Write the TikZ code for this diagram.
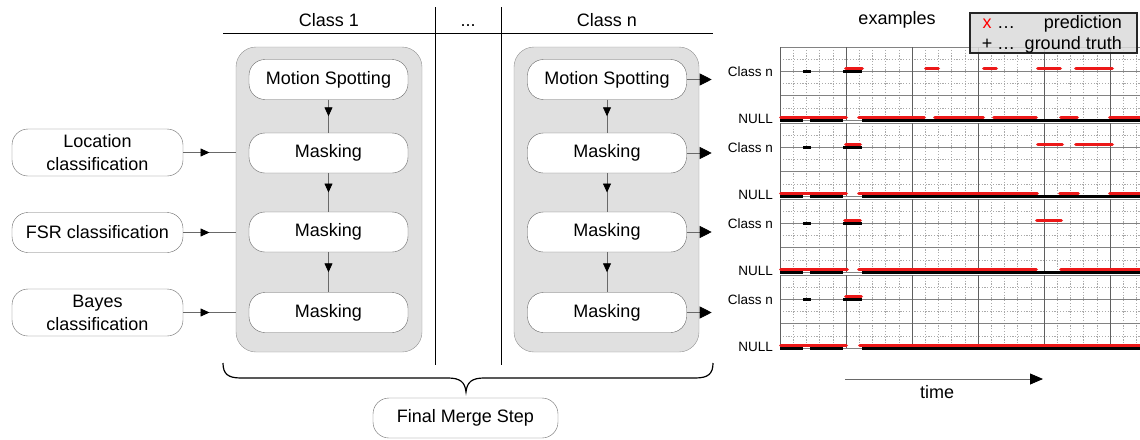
\documentclass[tikz,border=0pt]{standalone}
\usepackage{fontspec}
\setmainfont{Liberation Sans}
\usetikzlibrary{arrows.meta,decorations.markings}

\definecolor{linegray}{RGB}{105,105,105}
\definecolor{panelfill}{RGB}{224,224,224}
\definecolor{predred}{RGB}{236,24,24}
\definecolor{gridmajor}{RGB}{95,95,95}
\definecolor{gridrow}{RGB}{130,130,130}
\definecolor{gridminor}{RGB}{170,170,170}

\tikzset{
  stage/.style={draw=linegray, fill=white, rounded corners=16pt,
    minimum width=159pt, minimum height=40pt, align=center},
  source/.style={stage, minimum width=171pt, minimum height=47pt},
  group/.style={draw=gray!85, fill=panelfill, rounded corners=20pt,
    minimum height=305pt},
  flow/.style={draw=linegray, line width=0.8pt,
    decoration={markings, mark=at position 0.5 with
      {\arrow[black]{Triangle[length=9pt,width=8pt]}}},
    postaction={decorate}},
  output/.style={draw=linegray, line width=0.8pt,
    -{Triangle[length=12pt,width=12pt,color=black]}},
  minorgrid/.style={gridminor, line width=0.6pt, dash pattern=on 1.2pt off 1.6pt},
  majorgrid/.style={gridmajor, line width=0.7pt},
  rowgrid/.style={gridrow, line width=0.7pt},
  truth/.style={black, line width=3pt},
  pred/.style={predred, line width=3.6pt, line cap=round},
  plotlabel/.style={font=\fontsize{13.5}{15}\selectfont, anchor=east},
}

% prediction segments of one panel: top edge, Class n segments, NULL segments
\newcommand\predrow[3]{%
  \foreach \a/\b in {#2} \draw[pred] (\a+1.8,#1+21.6) -- (\b-1.8,#1+21.6);
  \foreach \a/\b in {#3} \draw[pred] (\a+1.8,#1+70.4) -- (\b-1.8,#1+70.4);
}

\begin{document}
\begin{tikzpicture}[x=1pt,y=-1pt,
  every node/.style={font=\fontsize{18}{23}\selectfont, inner sep=0pt}]
\useasboundingbox (0,0) rectangle (1140,439);

% ---------- column headers ----------
\coordinate (hl) at (223,33);
\coordinate (hr) at (713,33);
\coordinate (d1t) at (435,7);
\coordinate (d1b) at (435,365);
\coordinate (d2t) at (501,7);
\coordinate (d2b) at (501,365);
\draw[black, line width=0.9pt] (hl) -- (hr);
\draw[black, line width=0.9pt] (d1t) -- (d1b);
\draw[black, line width=0.9pt] (d2t) -- (d2b);
\node (h1) at (329,20) {Class 1};
\node[anchor=base] (hd) at (468,26) {...};
\node (hn) at (607,20) {Class n};

% ---------- class groups ----------
\node[group, minimum width=186pt] (g1) at (329,199.5) {};
\node[group, minimum width=185pt] (gn) at (606.5,199.5) {};

\node[stage] (a0) at (328.5,79.5) {Motion Spotting};
\node[stage] (a1) at (328.5,153) {Masking};
\node[stage] (a2) at (328.5,232) {Masking};
\node[stage] (a3) at (328.5,312.5) {Masking};

\node[stage] (b0) at (607,79.5) {Motion Spotting};
\node[stage] (b1) at (607,153) {Masking};
\node[stage] (b2) at (607,232) {Masking};
\node[stage] (b3) at (607,312.5) {Masking};

\draw[flow] (a0) -- (a1);
\draw[flow] (a1) -- (a2);
\draw[flow] (a2) -- (a3);
\draw[flow] (b0) -- (b1);
\draw[flow] (b1) -- (b2);
\draw[flow] (b2) -- (b3);

% ---------- classifier inputs ----------
\node[source] (loc) at (97.5,152.5) {Location\\classification};
\node[source, minimum height=40pt] (fsr) at (97.5,232.5) {FSR classification};
\node[source] (bay) at (97.5,312.5) {Bayes\\classification};

\draw[flow] (loc.east) -- (loc.east -| g1.west);
\draw[flow] (fsr.east) -- (fsr.east -| g1.west);
\draw[flow] (bay.east) -- (bay.east -| g1.west);

% ---------- outputs of class n ----------
\foreach \n in {0,1,2,3} {
  \coordinate (o\n) at ([xshift=25pt]b\n.east);
  \draw[output] (b\n.east) -- (o\n);
}

% ---------- merge ----------
\coordinate (brl) at (223,363);
\coordinate (brr) at (713,363);
\coordinate (brt) at (466,392);
\draw[black, line width=1.2pt]
  (brl) .. controls (223,374) and (228,378) .. (241,378)
  -- (448,378) .. controls (460,378) and (465,382) .. (brt)
  .. controls (467,382) and (472,378) .. (484,378)
  -- (695,378) .. controls (708,378) and (713,374) .. (brr);
\node[stage, minimum width=185pt] (merge) at (465.5,418) {Final Merge Step};

% ---------- example plots ----------
\begin{scope}
\clip (775,40) rectangle (1140,360);
\foreach \k in {0,...,3} {
  \pgfmathsetmacro{\T}{47+76*\k}
  \foreach \i in {1,...,27}
    \draw[minorgrid] ({780+13.2*\i},\T) -- ({780+13.2*\i},{\T+73});
  \foreach \d in {12.2,36.5,60.8}
    \draw[minorgrid] (780,{\T+\d}) -- (1140,{\T+\d});
  \foreach \d in {0,24.3,48.6,73}
    \draw[rowgrid] (780,{\T+\d}) -- (1140,{\T+\d});
  \foreach \x in {780,846,912,978,1044,1110}
    \draw[majorgrid] (\x,\T) -- (\x,{\T+73});
  % ground truth
  \foreach \a/\b in {803/811,843/862}
    \draw[truth] (\a,{\T+24.5}) -- (\b,{\T+24.5});
  \foreach \a/\b in {780/803,810/843,862/1145}
    \draw[truth] (\a,{\T+73}) -- (\b,{\T+73});
}
\predrow{47}{844/864,924/940,982/998,1036/1062,1074/1114}
  {779/848,857/926,933/985,992/1038,1059/1079,1108/1146}
\predrow{123}{844/862,1036/1064,1074/1114}
  {779/848,857/1039,1058/1080,1108/1146}
\predrow{199}{843/862,1035/1063}
  {779/849,857/1038,1059/1146}
\predrow{275}{844/863}
  {779/848,858/1146}
\end{scope}

\foreach \k in {0,...,3} {
  \pgfmathsetmacro{\T}{47+76*\k}
  \node[plotlabel] (cl\k) at (773,{\T+24.5}) {Class n};
  \node[plotlabel] (nl\k) at (773,{\T+72}) {NULL};
}

% ---------- title and legend ----------
\node (ex) at (897,20) {examples};
\node[draw=black!85, line width=1.3pt, fill=gray!28, fill opacity=0.85,
  minimum width=167pt, minimum height=40pt] (legend) at (1053.5,33) {};
\node[anchor=base, text=red] (lx) at (987,28) {x};
\node[anchor=base] (le1) at (1006,28) {…};
\node[anchor=base east] (lp) at (1122,28) {prediction};
\node[anchor=base] (lplus) at (987,49) {+};
\node[anchor=base] (le2) at (1006,49) {…};
\node[anchor=base east] (lg) at (1122,49) {ground truth};

% ---------- time axis ----------
\coordinate (t0) at (845,379);
\coordinate (t1) at (1043,379);
\draw[linegray, line width=0.8pt, -{Triangle[length=13pt,width=11pt,color=black]}] (t0) -- (t1);
\node (time) at (937,392) {time};
\end{tikzpicture}
\end{document}
